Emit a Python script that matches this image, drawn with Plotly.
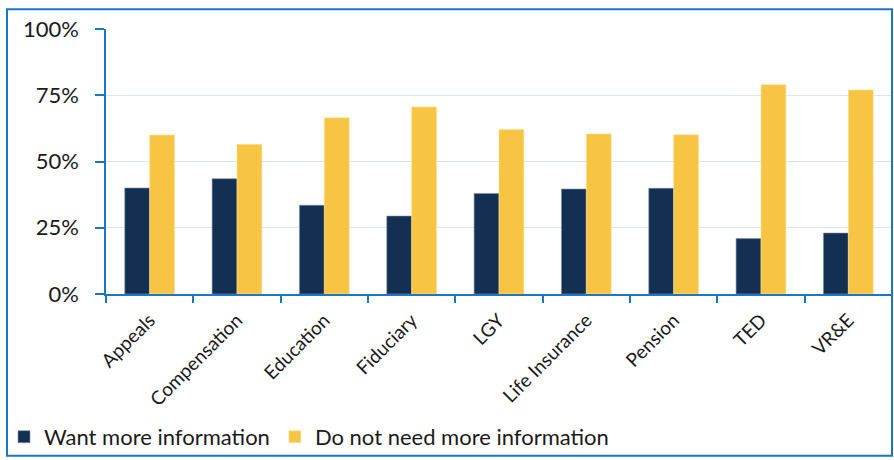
import plotly.graph_objects as go

categories = ["Appeals", "Compensation", "Education", "Fiduciary", "LGY",
              "Life Insurance", "Pension", "TED", "VR&E"]
want_more = [0.40, 0.435, 0.335, 0.294, 0.379, 0.396, 0.399, 0.209, 0.230]
not_needed = [0.60, 0.565, 0.665, 0.706, 0.621, 0.604, 0.601, 0.790, 0.770]
series_names = ["Want more information", "Do not need more information"]
tick_vals = [0, 0.25, 0.5, 0.75, 1.0]
tick_text = ["0%", "25%", "50%", "75%", "100%"]

W, H = 894, 460
ML, MR, MT, MB = 106, 2, 29, 164
pw, ph = W - ML - MR, H - MT - MB

navy = "#132F52"
gold = "#F7C543"
axis_blue = "#1C75C6"
font_family = "Lato, 'Open Sans', sans-serif"

fig = go.Figure()
fig.add_trace(go.Bar(x=categories, y=want_more, name=series_names[0],
                     marker=dict(color=navy, line=dict(color="#8090A8", width=0.6))))
fig.add_trace(go.Bar(x=categories, y=not_needed, name=series_names[1],
                     marker=dict(color=gold, line=dict(color="#FCE29A", width=0.6))))

# outer border
def px_x(v):
    return (v - ML) / pw
def px_y(v):
    return (H - MB - v) / ph

fig.add_shape(type="rect", xref="paper", yref="paper",
              x0=px_x(7), x1=px_x(892), y0=px_y(459), y1=px_y(9),
              line=dict(color=axis_blue, width=2), fillcolor="rgba(0,0,0,0)",
              layer="above")

fig.update_layout(
    width=W, height=H,
    margin=dict(l=ML, r=MR, t=MT, b=MB),
    paper_bgcolor="white", plot_bgcolor="white",
    barmode="group", bargap=0.43, bargroupgap=0,
    font=dict(family=font_family, color="#1A1A1A"),
    showlegend=True,
    legend=dict(orientation="h", x=px_x(4), xanchor="left", y=px_y(440), yanchor="middle",
                font=dict(size=22, family=font_family, color="#1A1A1A"),
                bgcolor="rgba(0,0,0,0)", itemwidth=30, tracegroupgap=0),
    xaxis=dict(showline=True, linecolor=axis_blue, linewidth=1.5,
               ticks="outside", tickson="boundaries", ticklen=7, tickcolor=axis_blue,
               tickwidth=1.5, tickangle=-45, tickfont=dict(size=19, family=font_family),
               ticklabelstandoff=6, showgrid=False),
    yaxis=dict(range=[0, 1], tickvals=tick_vals, ticktext=tick_text,
               showline=True, linecolor=axis_blue, linewidth=1.5,
               ticks="outside", ticklen=9, tickcolor=axis_blue, tickwidth=1.5,
               tickfont=dict(size=22, family=font_family), ticklabelstandoff=12,
               showgrid=True, gridcolor="#DCE4F0", gridwidth=1.2, zeroline=False),
)

fig.write_html("out.html")
